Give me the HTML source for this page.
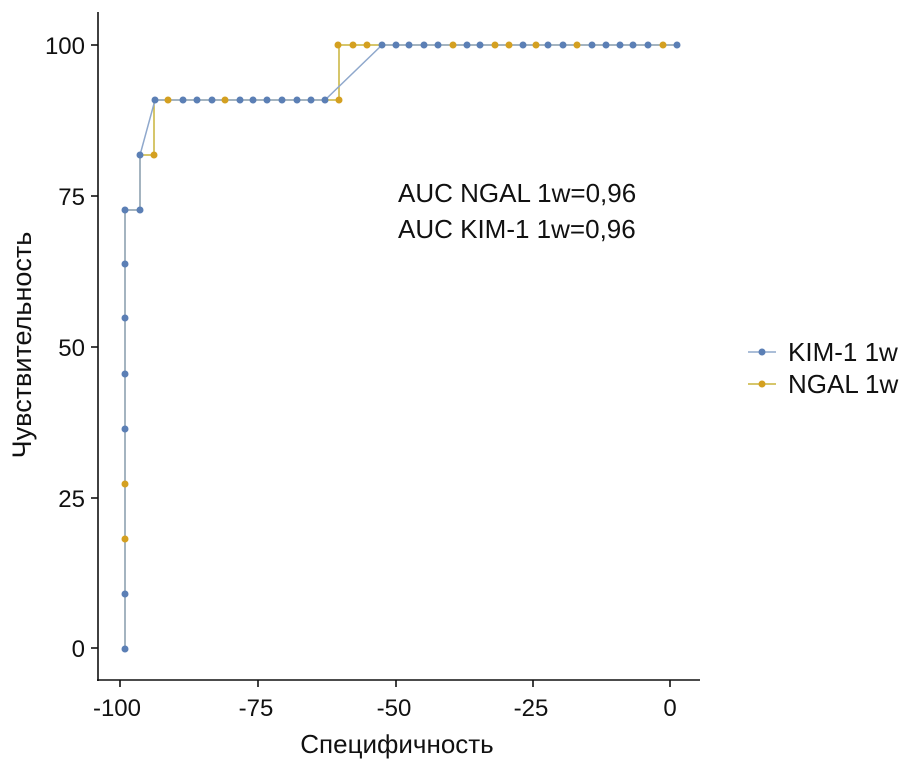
<!DOCTYPE html>
<html><head><meta charset="utf-8"><style>body{margin:0;background:#fff}svg{display:block}text{font-family:"Liberation Sans","DejaVu Sans",sans-serif;fill:#111}</style></head>
<body>
<svg width="922" height="770" viewBox="0 0 922 770">
<g stroke="#111" stroke-width="1.6" fill="none">
<line x1="98" y1="12" x2="98" y2="681"/>
<line x1="97" y1="680" x2="700" y2="680"/>
<line x1="91" y1="45" x2="98" y2="45"/><line x1="91" y1="196" x2="98" y2="196"/><line x1="91" y1="347" x2="98" y2="347"/><line x1="91" y1="498" x2="98" y2="498"/><line x1="91" y1="648" x2="98" y2="648"/>
<line x1="120" y1="680" x2="120" y2="687"/><line x1="258" y1="680" x2="258" y2="687"/><line x1="396" y1="680" x2="396" y2="687"/><line x1="533" y1="680" x2="533" y2="687"/><line x1="670" y1="680" x2="670" y2="687"/>
</g>
<g font-size="24" text-anchor="end">
<text x="85" y="54">100</text><text x="85" y="205">75</text><text x="85" y="356">50</text><text x="85" y="507">25</text><text x="85" y="657">0</text>
</g>
<g font-size="24" text-anchor="middle">
<text x="117" y="716">-100</text><text x="256" y="716">-75</text><text x="394" y="716">-50</text><text x="531" y="716">-25</text><text x="670" y="716">0</text>
</g>
<text x="397" y="753" font-size="26" text-anchor="middle">Специфичность</text>
<text transform="translate(31,345) rotate(-90)" font-size="27" text-anchor="middle">Чувствительность</text>
<text x="398" y="202" font-size="26">AUC NGAL 1w=0,96</text>
<text x="398" y="238" font-size="26">AUC KIM-1 1w=0,96</text>
<polyline fill="none" stroke="#c9b33a" stroke-width="1.5" points="125,649 125,210 140,210 140,155 154,155 154,100 339,100 339,45 677,45"/>
<polyline fill="none" stroke="#8fa8cc" stroke-width="1.5" points="125,649 125,210 140,210 140,155 155,100 325,100 382,45 677,45"/>
<g fill="#5b7fb5">
<circle cx="125" cy="649" r="3.5"/><circle cx="125" cy="594" r="3.5"/><circle cx="125" cy="429" r="3.5"/><circle cx="125" cy="374" r="3.5"/><circle cx="125" cy="318" r="3.5"/><circle cx="125" cy="264" r="3.5"/><circle cx="125" cy="210" r="3.5"/><circle cx="140" cy="210" r="3.5"/><circle cx="140" cy="155" r="3.5"/>
<circle cx="155" cy="100" r="3.5"/><circle cx="183" cy="100" r="3.5"/><circle cx="197" cy="100" r="3.5"/><circle cx="212" cy="100" r="3.5"/><circle cx="240" cy="100" r="3.5"/><circle cx="253" cy="100" r="3.5"/><circle cx="267" cy="100" r="3.5"/><circle cx="282" cy="100" r="3.5"/><circle cx="297" cy="100" r="3.5"/><circle cx="311" cy="100" r="3.5"/><circle cx="325" cy="100" r="3.5"/>
<circle cx="382" cy="45" r="3.5"/><circle cx="396" cy="45" r="3.5"/><circle cx="409" cy="45" r="3.5"/><circle cx="424" cy="45" r="3.5"/><circle cx="438" cy="45" r="3.5"/><circle cx="467" cy="45" r="3.5"/><circle cx="480" cy="45" r="3.5"/><circle cx="523" cy="45" r="3.5"/><circle cx="548" cy="45" r="3.5"/><circle cx="563" cy="45" r="3.5"/><circle cx="592" cy="45" r="3.5"/><circle cx="606" cy="45" r="3.5"/><circle cx="620" cy="45" r="3.5"/><circle cx="633" cy="45" r="3.5"/><circle cx="648" cy="45" r="3.5"/><circle cx="677" cy="45" r="3.5"/>
</g>
<g fill="#d4a020">
<circle cx="125" cy="484" r="3.5"/><circle cx="125" cy="539" r="3.5"/><circle cx="154" cy="155" r="3.5"/><circle cx="168" cy="100" r="3.5"/><circle cx="225" cy="100" r="3.5"/><circle cx="339" cy="100" r="3.5"/>
<circle cx="338" cy="45" r="3.5"/><circle cx="353" cy="45" r="3.5"/><circle cx="367" cy="45" r="3.5"/><circle cx="453" cy="45" r="3.5"/><circle cx="495" cy="45" r="3.5"/><circle cx="509" cy="45" r="3.5"/><circle cx="536" cy="45" r="3.5"/><circle cx="577" cy="45" r="3.5"/><circle cx="663" cy="45" r="3.5"/>
</g>
<line x1="748" y1="352" x2="776" y2="352" stroke="#8fa8cc" stroke-width="1.5"/><circle cx="762" cy="352" r="3.5" fill="#5b7fb5"/>
<line x1="748" y1="384" x2="776" y2="384" stroke="#c9b33a" stroke-width="1.5"/><circle cx="762" cy="384" r="3.5" fill="#d4a020"/>
<text x="788" y="361" font-size="26">KIM-1 1w</text>
<text x="788" y="393" font-size="26">NGAL 1w</text>
</svg>
</body></html>
